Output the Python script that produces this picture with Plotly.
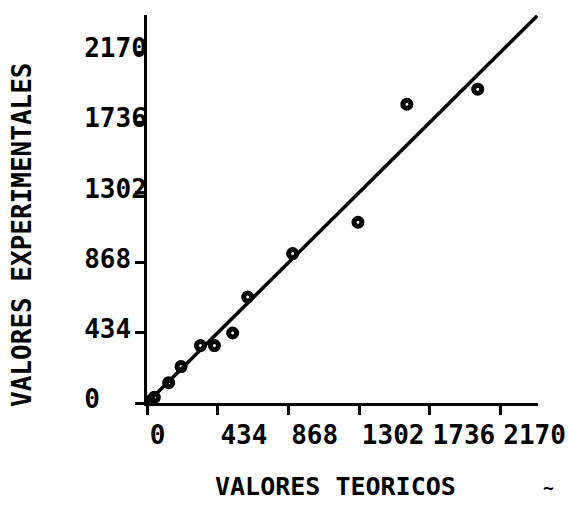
import plotly.graph_objects as go

# Theoretical vs experimental values
teoricos = [15, 45, 133, 209, 328, 414, 526, 618, 894, 1295, 1595, 2030]
experimentales = [10, 35, 126, 225, 355, 355, 433, 655, 924, 1118, 1848, 1941]

# Reference line y = x
linea = [0, 2395]

tick_vals = [0, 434, 868, 1302, 1736, 2170]
tick_text = ["0", "434", "868", "1302", "1736", "2170"]

x_title = "VALORES TEORICOS"
y_title = "VALORES EXPERIMENTALES"

font_fam = "DejaVu Sans Mono"
NBSP = "\u00a0"

# Left-aligned y labels: pad with non-breaking spaces in a monospace font
y_tick_text = [t + NBSP * (4 - len(t)) for t in tick_text]

fig = go.Figure()
fig.add_trace(go.Scatter(
    x=linea, y=linea, mode="lines",
    line=dict(color="black", width=3.5),
    showlegend=False, hoverinfo="skip",
))
fig.add_trace(go.Scatter(
    x=teoricos, y=experimentales, mode="markers",
    marker=dict(symbol="circle-open", size=8, color="black",
                line=dict(color="black", width=5)),
    showlegend=False,
))

axis_common = dict(
    range=[0, 2400],
    tickvals=tick_vals,
    ticks="outside",
    ticklen=9,
    tickwidth=2.5,
    tickcolor="black",
    showline=True,
    linecolor="black",
    linewidth=3,
    showgrid=False,
    zeroline=False,
    automargin=False,
    tickangle=0,
    tickfont=dict(family=font_fam, size=26, color="black", weight="bold"),
)

fig.update_xaxes(
    **axis_common,
    ticktext=tick_text,
    ticklabelposition="outside right",
    ticklabelstandoff=7,
)
fig.update_yaxes(
    **axis_common,
    ticktext=y_tick_text,
    ticklabelstandoff=-17,
    ticklabelshift=-4,
)

# Axis titles placed relative to the plot area
title_font = dict(family=font_fam, size=25, color="black", weight="bold")
fig.add_annotation(
    xref="x domain", yref="y domain", x=0.481, y=-0.214,
    xanchor="center", yanchor="middle",
    text=x_title, showarrow=False, font=title_font,
)
fig.add_annotation(
    xref="x domain", yref="y domain", x=-0.32, y=0.433,
    xanchor="center", yanchor="middle", textangle=-90,
    text=y_title, showarrow=False, font={**title_font, "size": 26},
)

fig.add_annotation(
    xref="x domain", yref="y domain",
    x=(548 - 147) / 391, y=(403 - 490) / 388,
    xshift=8, yshift=-10,
    text="~", showarrow=False,
    font=dict(family=font_fam, size=18, color="black", weight="bold"),
)

fig.update_layout(
    width=568, height=507,
    margin=dict(l=147, r=30, t=15, b=104),
    plot_bgcolor="white", paper_bgcolor="white",
)

fig.write_html("out.html")
